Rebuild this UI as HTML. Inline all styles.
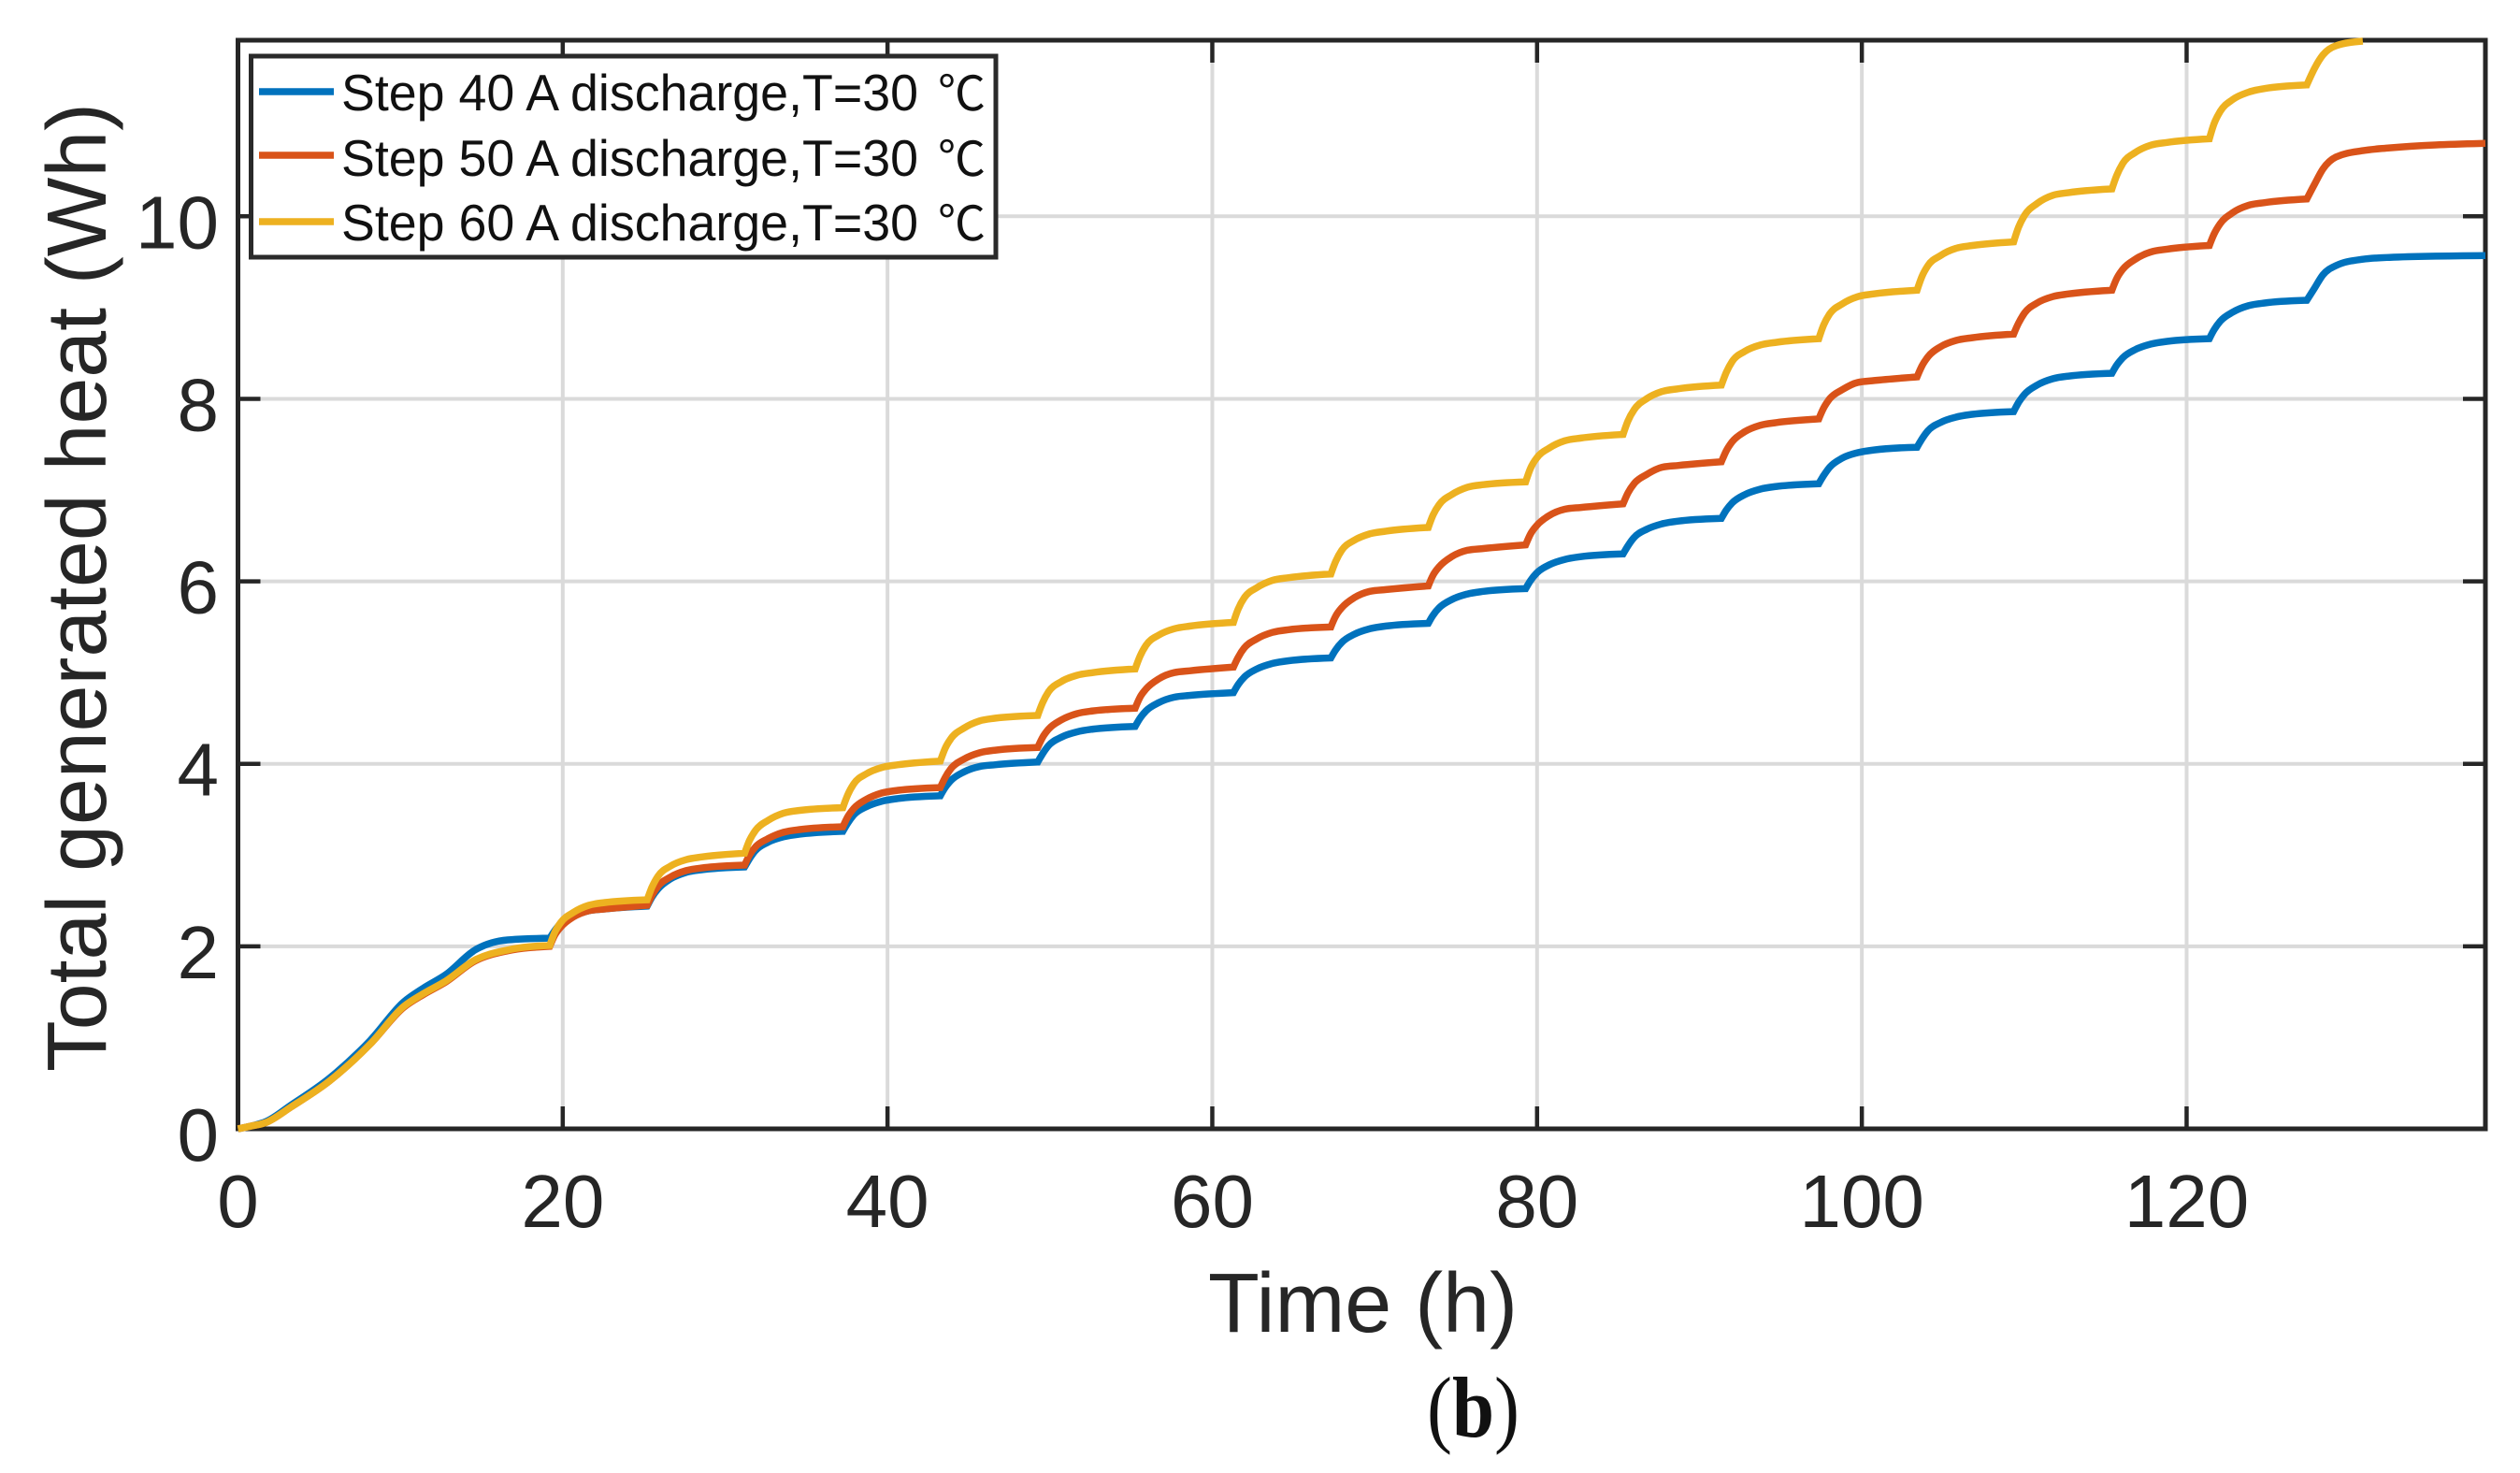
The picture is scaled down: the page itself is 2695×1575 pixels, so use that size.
<!DOCTYPE html>
<html lang="en">
<head>
<meta charset="utf-8">
<title>Total generated heat vs time</title>
<style>
html,body{margin:0;padding:0;background:#fff;width:2695px;height:1575px;overflow:hidden}
svg{display:block}
text{font-family:"Liberation Sans","Noto Sans CJK SC",sans-serif;fill:#262626}
</style>
</head>
<body>
<svg id="chart" xmlns="http://www.w3.org/2000/svg" width="2695" height="1575" viewBox="0 0 2695 1575">
  <rect x="0" y="0" width="2695" height="1575" fill="#ffffff"/>
  <g id="grid"></g>
  <g id="ticks"></g>
  <rect x="254.5" y="43" width="2403.5" height="1164" fill="none" stroke="#262626" stroke-width="5"/>
  <g id="xlabels"></g>
  <g id="ylabels"></g>
  <g id="series"></g>

  <text x="1292" y="1424" font-size="90" textLength="331" lengthAdjust="spacingAndGlyphs">Time (h)</text>
  <text transform="translate(113,1146) rotate(-90)" x="0" y="0" font-size="90" textLength="1036" lengthAdjust="spacingAndGlyphs">Total generated heat (Wh)</text>
  <text x="1526" y="1536" font-size="92" style='font-family:"Liberation Serif",serif;fill:#111' textLength="99" lengthAdjust="spacingAndGlyphs">(<tspan font-weight="700">b</tspan>)</text>

  <g>
    <rect x="268.5" y="60" width="796.5" height="215" fill="#ffffff" stroke="#2a2a2a" stroke-width="5"/>
    <line x1="277" x2="357" y1="98" y2="98" stroke="#0072BD" stroke-width="7.5"/>
    <text x="365" y="118" font-size="55" style="fill:#111" textLength="617" lengthAdjust="spacingAndGlyphs">Step 40 A discharge,T=30</text>
    <text x="1003" y="118" font-size="51" style="fill:#111">℃</text>
    <line x1="277" x2="357" y1="166" y2="166" stroke="#D95319" stroke-width="7.5"/>
    <text x="365" y="188" font-size="55" style="fill:#111" textLength="617" lengthAdjust="spacingAndGlyphs">Step 50 A discharge,T=30</text>
    <text x="1003" y="188" font-size="51" style="fill:#111">℃</text>
    <line x1="277" x2="357" y1="237" y2="237" stroke="#EDB120" stroke-width="7.5"/>
    <text x="365" y="257" font-size="55" style="fill:#111" textLength="617" lengthAdjust="spacingAndGlyphs">Step 60 A discharge,T=30</text>
    <text x="1003" y="257" font-size="51" style="fill:#111">℃</text>
  </g>
</svg>
<script>
// Chart data
const xTickLabels = [0, 20, 40, 60, 80, 100, 120];
const yTickLabels = [0, 2, 4, 6, 8, 10];
// Times at which a new discharge step begins (sharp corners in the curves)
const stepStarts = [19.2, 25.2, 31.2, 37.25, 43.25, 49.25, 55.25, 61.3, 67.3, 73.3, 79.3, 85.3, 91.35, 97.35, 103.4, 109.35, 115.4, 121.4, 127.4];
const timeHours = [
  0, 0.8, 1.73, 3.27, 5.6, 8.15, 10.2, 11.4, 12.8, 14.6, 16.6,
  19.2, 19.5, 19.87, 20.64, 21.6, 22.6,
  25.2, 25.5, 25.87, 26.64, 27.6, 28.6,
  31.2, 31.5, 31.87, 32.64, 33.6, 34.6,
  37.25, 37.55, 37.92, 38.69, 39.65, 40.65,
  43.25, 43.55, 43.92, 44.69, 45.65, 46.65,
  49.25, 49.55, 49.92, 50.69, 51.65, 52.65,
  55.25, 55.55, 55.92, 56.69, 57.65, 58.65,
  61.3, 61.6, 61.97, 62.74, 63.7, 64.7,
  67.3, 67.6, 67.97, 68.74, 69.7, 70.7,
  73.3, 73.6, 73.97, 74.74, 75.7, 76.7,
  79.3, 79.6, 79.97, 80.74, 81.7, 82.7,
  85.3, 85.6, 85.97, 86.74, 87.7, 88.7,
  91.35, 91.65, 92.02, 92.79, 93.75, 94.75,
  97.35, 97.65, 98.02, 98.79, 99.75, 100.75,
  103.4, 103.7, 104.07, 104.84, 105.8, 106.8,
  109.35, 109.65, 110.02, 110.79, 111.75, 112.75,
  115.4, 115.7, 116.07, 116.84, 117.8, 118.8,
  121.4, 121.7, 122.07, 122.84, 123.8, 124.8,
  127.4, 127.9, 128.4, 129.2, 130.85, 132.5, 138.4
];
const heat40A = [
  0, 0.03, 0.08, 0.26, 0.55, 0.97, 1.39, 1.54, 1.69, 1.96, 2.07,
  2.09, 2.17, 2.25, 2.33, 2.39, 2.41,
  2.44, 2.54, 2.63, 2.74, 2.81, 2.84,
  2.87, 2.96, 3.05, 3.14, 3.20, 3.23,
  3.26, 3.35, 3.44, 3.53, 3.59, 3.62,
  3.65, 3.74, 3.82, 3.91, 3.97, 3.99,
  4.02, 4.11, 4.20, 4.29, 4.35, 4.38,
  4.41, 4.50, 4.58, 4.67, 4.73, 4.75,
  4.78, 4.87, 4.95, 5.04, 5.10, 5.13,
  5.16, 5.25, 5.33, 5.42, 5.48, 5.51,
  5.54, 5.63, 5.71, 5.80, 5.86, 5.89,
  5.92, 6.01, 6.09, 6.18, 6.24, 6.27,
  6.30, 6.39, 6.48, 6.57, 6.63, 6.66,
  6.69, 6.78, 6.86, 6.95, 7.01, 7.04,
  7.07, 7.16, 7.25, 7.35, 7.41, 7.44,
  7.47, 7.56, 7.65, 7.74, 7.80, 7.83,
  7.86, 7.96, 8.05, 8.15, 8.22, 8.25,
  8.28, 8.37, 8.45, 8.54, 8.60, 8.63,
  8.66, 8.76, 8.85, 8.95, 9.02, 9.05,
  9.08, 9.22, 9.36, 9.46, 9.53, 9.55, 9.57
];
const heat50A = [
  0, 0.03, 0.07, 0.24, 0.52, 0.93, 1.33, 1.47, 1.61, 1.84, 1.95,
  2.00, 2.12, 2.21, 2.32, 2.39, 2.41,
  2.45, 2.56, 2.66, 2.76, 2.83, 2.86,
  2.89, 3.00, 3.09, 3.18, 3.25, 3.28,
  3.31, 3.42, 3.51, 3.61, 3.68, 3.71,
  3.74, 3.85, 3.95, 4.05, 4.12, 4.15,
  4.18, 4.29, 4.38, 4.48, 4.55, 4.58,
  4.61, 4.73, 4.82, 4.93, 5.00, 5.02,
  5.06, 5.17, 5.27, 5.37, 5.44, 5.47,
  5.50, 5.62, 5.71, 5.82, 5.89, 5.91,
  5.95, 6.07, 6.16, 6.27, 6.34, 6.36,
  6.40, 6.52, 6.61, 6.72, 6.79, 6.81,
  6.85, 6.97, 7.07, 7.17, 7.25, 7.27,
  7.31, 7.43, 7.53, 7.64, 7.71, 7.74,
  7.78, 7.90, 8.00, 8.10, 8.18, 8.20,
  8.24, 8.36, 8.46, 8.57, 8.64, 8.67,
  8.71, 8.83, 8.94, 9.05, 9.12, 9.15,
  9.19, 9.32, 9.42, 9.53, 9.61, 9.64,
  9.68, 9.81, 9.92, 10.04, 10.12, 10.15,
  10.19, 10.36, 10.52, 10.65, 10.72, 10.75, 10.80
];
const heat60A = [
  0, 0.03, 0.07, 0.24, 0.52, 0.93, 1.34, 1.48, 1.62, 1.85, 1.96,
  2.01, 2.15, 2.26, 2.37, 2.45, 2.48,
  2.51, 2.65, 2.77, 2.88, 2.95, 2.98,
  3.02, 3.16, 3.27, 3.38, 3.46, 3.49,
  3.52, 3.66, 3.78, 3.89, 3.96, 3.99,
  4.03, 4.17, 4.28, 4.39, 4.47, 4.50,
  4.53, 4.67, 4.79, 4.90, 4.97, 5.00,
  5.04, 5.18, 5.30, 5.41, 5.48, 5.51,
  5.55, 5.70, 5.82, 5.93, 6.01, 6.04,
  6.08, 6.22, 6.34, 6.45, 6.52, 6.55,
  6.59, 6.73, 6.84, 6.95, 7.03, 7.06,
  7.09, 7.24, 7.35, 7.46, 7.54, 7.57,
  7.61, 7.76, 7.88, 8.00, 8.08, 8.11,
  8.15, 8.29, 8.41, 8.52, 8.59, 8.62,
  8.66, 8.81, 8.93, 9.04, 9.12, 9.15,
  9.19, 9.34, 9.46, 9.57, 9.65, 9.68,
  9.72, 9.88, 10.01, 10.14, 10.23, 10.26,
  10.30, 10.45, 10.58, 10.70, 10.78, 10.81,
  10.85, 11.02, 11.15, 11.28, 11.36, 11.40,
  11.44, 11.63, 11.77, 11.87, 11.92, null, null
];

// Axis functions
const plotLeft = 254.5, plotRight = 2658, plotTop = 43, plotBottom = 1207;
const xMin = 0, xMax = 138.4, yMin = 0, yMax = 11.93;
function xScale(t) { return plotLeft + (t - xMin) / (xMax - xMin) * (plotRight - plotLeft); }
function yScale(v) { return plotBottom - (v - yMin) / (yMax - yMin) * (plotBottom - plotTop); }

const NS = 'http://www.w3.org/2000/svg';
const gridG = document.getElementById('grid');
const ticksG = document.getElementById('ticks');
const xLabG = document.getElementById('xlabels');
const yLabG = document.getElementById('ylabels');
const seriesG = document.getElementById('series');

function makeLine(x1, y1, x2, y2, stroke, width) {
  const l = document.createElementNS(NS, 'line');
  l.setAttribute('x1', x1);
  l.setAttribute('y1', y1);
  l.setAttribute('x2', x2);
  l.setAttribute('y2', y2);
  l.setAttribute('stroke', stroke);
  l.setAttribute('stroke-width', width);
  return l;
}
function makeText(x, y, anchor, size, str) {
  const t = document.createElementNS(NS, 'text');
  t.setAttribute('x', x);
  t.setAttribute('y', y);
  t.setAttribute('text-anchor', anchor);
  t.setAttribute('font-size', size);
  t.textContent = str;
  return t;
}

const gridColor = '#dadada', tickColor = '#262626', tickLen = 24;

xTickLabels.forEach(function (v) {
  const x = xScale(v);
  if (v !== xMin) {
    const g = makeLine(x, plotTop, x, plotBottom, gridColor, 4);
    
    
    gridG.appendChild(g);
    const b = makeLine(x, plotBottom, x, plotBottom - tickLen, tickColor, 4.5);
    
    
    ticksG.appendChild(b);
    const t = makeLine(x, plotTop, x, plotTop + tickLen, tickColor, 4.5);
    
    
    ticksG.appendChild(t);
  }
  const lab = makeText(x, 1312, 'middle', 80, String(v));
  
  
  xLabG.appendChild(lab);
});

yTickLabels.forEach(function (v) {
  const y = yScale(v);
  if (v !== yMin) {
    const g = makeLine(plotLeft, y, plotRight, y, gridColor, 4);
    
    
    gridG.appendChild(g);
    const l = makeLine(plotLeft, y, plotLeft + tickLen, y, tickColor, 4.5);
    
    
    ticksG.appendChild(l);
    const r = makeLine(plotRight, y, plotRight - tickLen, y, tickColor, 4.5);
    
    
    ticksG.appendChild(r);
  }
  const lab = makeText(234, y + 34, 'end', 80, String(v));
  
  
  yLabG.appendChild(lab);
});

// Smooth each step section with a monotone cubic so corners at step starts stay sharp
function sectionPath(s) {
  const n = s.length;
  const h = [], d = [], m = [];
  for (let i = 0; i < n - 1; i++) {
    h.push(s[i + 1].x - s[i].x);
    d.push((s[i + 1].y - s[i].y) / h[i]);
  }
  for (let i = 1; i < n - 1; i++) {
    if (d[i - 1] * d[i] <= 0) { m[i] = 0; continue; }
    const est = (d[i - 1] * h[i] + d[i] * h[i - 1]) / (h[i] + h[i - 1]);
    m[i] = Math.sign(est) * Math.min(Math.abs(est), 2 * Math.abs(d[i - 1]), 2 * Math.abs(d[i]));
  }
  m[0] = n > 2 ? (3 * d[0] - m[1]) / 2 : d[0];
  m[n - 1] = n > 2 ? (3 * d[n - 2] - m[n - 2]) / 2 : d[0];
  let out = '';
  for (let i = 0; i < n - 1; i++) {
    const c1x = s[i].x + h[i] / 3, c1y = s[i].y + m[i] * h[i] / 3;
    const c2x = s[i + 1].x - h[i] / 3, c2y = s[i + 1].y - m[i + 1] * h[i] / 3;
    out += 'C' + c1x.toFixed(1) + ' ' + c1y.toFixed(1) + ' ' + c2x.toFixed(1) + ' ' + c2y.toFixed(1) + ' ' + s[i + 1].x.toFixed(1) + ' ' + s[i + 1].y.toFixed(1);
  }
  return out;
}
function buildPath(values) {
  const pts = [];
  timeHours.forEach(function (t, i) {
    if (values[i] !== null) pts.push({ t: t, x: xScale(t), y: yScale(values[i]) });
  });
  const sections = [];
  let cur = [];
  pts.forEach(function (p) {
    cur.push(p);
    if (stepStarts.indexOf(p.t) >= 0) {
      sections.push(cur);
      cur = [p];
    }
  });
  if (cur.length > 1) sections.push(cur);
  let path = 'M' + pts[0].x.toFixed(1) + ' ' + pts[0].y.toFixed(1);
  sections.forEach(function (s) { path += sectionPath(s); });
  return path;
}

function addSeries(values, color, name) {
  const p = document.createElementNS(NS, 'path');
  p.setAttribute('d', buildPath(values));
  p.setAttribute('fill', 'none');
  p.setAttribute('stroke', color);
  p.setAttribute('stroke-width', '7.5');
  p.setAttribute('stroke-linejoin', 'miter');
  
  
  seriesG.appendChild(p);
}
addSeries(heat40A, '#0072BD', 'series-step-40a');
addSeries(heat50A, '#D95319', 'series-step-50a');
addSeries(heat60A, '#EDB120', 'series-step-60a');
</script>
</body>
</html>
